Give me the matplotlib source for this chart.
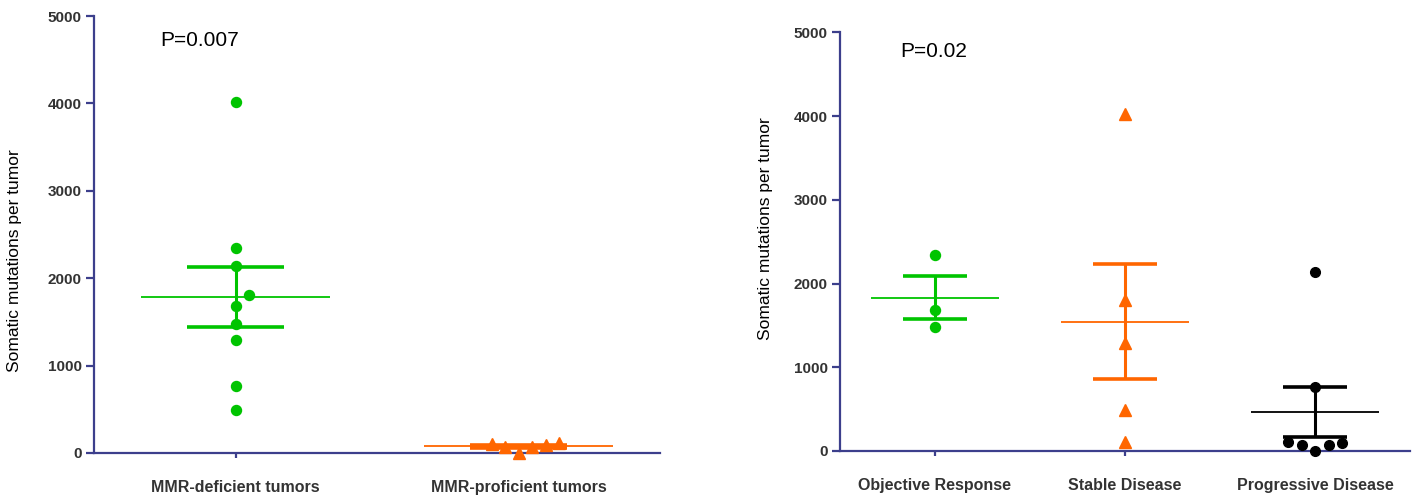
import numpy as np
import matplotlib
matplotlib.use("Agg")
import matplotlib.pyplot as plt

plt.rcParams['font.family'] = ['Liberation Sans', 'DejaVu Sans']

# Left panel: mutations by MMR status
left_groups = ['MMR-deficient tumors', 'MMR-proficient tumors']
mmr_deficient = [4020, 2342, 2140, 1808, 1678, 1476, 1293, 770, 492]
mmr_proficient = [111, 104, 92, 72, 72, 4]
left_p = 'P=0.007'

# Right panel: mutations by clinical response
right_groups = ['Objective Response', 'Stable Disease', 'Progressive Disease']
objective = [2342, 1678, 1476]
stable = [4020, 1808, 1293, 492, 111]
progressive = [2140, 770, 104, 92, 72, 72, 4]
right_p = 'P=0.02'

yticks = [0, 1000, 2000, 3000, 4000, 5000]

GREEN = '#00c400'
ORANGE = '#ff6600'
BLACK = '#000000'
AXIS = '#3c3f8c'
TICKTXT = '#333333'

W, H = 1418, 499
fig = plt.figure(figsize=(W / 100, H / 100), dpi=100)
ax1 = fig.add_axes([94 / W, 46 / H, 566 / W, 437 / H])
ax2 = fig.add_axes([840 / W, 48 / H, 570 / W, 418.7 / H])


def swarm(vals, ax, step_px=13.5, min_px=12):
    # simple beeswarm: shift points sideways when they overlap vertically
    bb = ax.get_position()
    y0, y1 = ax.get_ylim()
    x0, x1 = ax.get_xlim()
    ypx = bb.height * H / (y1 - y0)
    xpx = bb.width * W / (x1 - x0)
    vals = np.asarray(vals, float)
    slots = {}
    offs = np.zeros(len(vals))
    cands = [0]
    for k in range(1, 10):
        cands += [k, -k]
    for i in np.argsort(vals, kind='stable'):
        for k in cands:
            if all(abs(vals[i] - v) * ypx >= min_px for v in slots.get(k, [])):
                slots.setdefault(k, []).append(vals[i])
                offs[i] = k * step_px / xpx
                break
    return offs


def style(ax, labels):
    ax.set_xlim(-0.5, len(labels) - 0.5)
    ax.set_ylim(0, 5000)
    for s in ['top', 'right']:
        ax.spines[s].set_visible(False)
    for s in ['left', 'bottom']:
        ax.spines[s].set_color(AXIS)
        ax.spines[s].set_linewidth(1.6)
    ax.set_yticks(yticks)
    ax.set_yticklabels([str(t) for t in yticks], fontsize=11, fontweight='bold', color=TICKTXT)
    ax.set_xticks(range(len(labels)))
    ax.set_xticklabels(labels, fontsize=11.5, fontweight='bold', color=TICKTXT)
    ax.tick_params(axis='y', length=5.8, width=1.6, color=AXIS, pad=3)
    ax.tick_params(axis='x', length=3.6, width=1.6, color=AXIS, pad=16)


def group(ax, i, vals, color, marker, ms):
    vals = np.asarray(vals, float)
    m = vals.mean()
    sem = vals.std(ddof=1) / np.sqrt(len(vals))
    ax.hlines(m, i - 0.335, i + 0.335, color=color, lw=1.3, zorder=2)
    ax.hlines([m - sem, m + sem], i - 0.17, i + 0.17, color=color, lw=2.6, zorder=2)
    ax.vlines(i, m - sem, m + sem, color=color, lw=2.2, zorder=2)
    ax.plot(i + swarm(vals, ax), vals, linestyle='none', marker=marker, ms=ms,
            color=color, mec=color, zorder=3, clip_on=False)


style(ax1, left_groups)
group(ax1, 0, mmr_deficient, GREEN, 'o', 7.2)
group(ax1, 1, mmr_proficient, ORANGE, '^', 8)
ax1.text(-0.267, 4714, left_p, fontsize=15, ha='left', va='center')

style(ax2, right_groups)
group(ax2, 0, objective, GREEN, 'o', 7.2)
group(ax2, 1, stable, ORANGE, '^', 8)
group(ax2, 2, progressive, BLACK, 'o', 7.0)
ax2.text(-0.184, 4767, right_p, fontsize=15, ha='left', va='center')

fig.text(15 / W, 1 - 261 / H, 'Somatic mutations per tumor', rotation=90,
         ha='center', va='center', fontsize=12.5)
fig.text(765 / W, 1 - 229 / H, 'Somatic mutations per tumor', rotation=90,
         ha='center', va='center', fontsize=12.5)

fig.savefig('out.png', dpi=100)
